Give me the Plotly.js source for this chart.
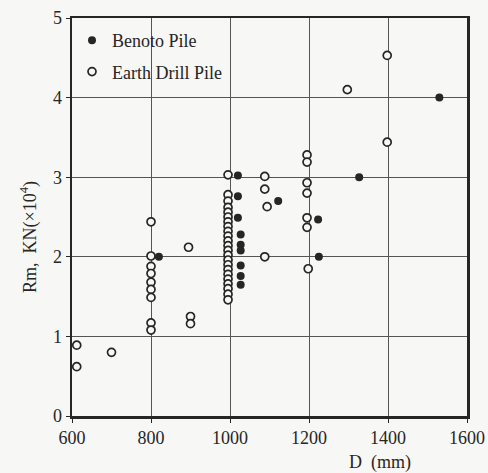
<!DOCTYPE html>
<html>
<head>
<meta charset="utf-8">
<script src="https://cdn.plot.ly/plotly-3.0.1.min.js"></script>
<style>html,body{margin:0;padding:0;background:#f7f7f5;}</style>
</head>
<body>
<div id="chart" style="width:488px;height:473px;"></div>
<script>
// Benoto Pile (filled)
const benotoD = [820, 1020, 1020, 1020, 1027, 1027, 1027, 1027, 1027, 1027, 1122, 1223, 1225, 1327, 1530];
const benotoRm = [2.00, 3.02, 2.76, 2.49, 2.28, 2.15, 2.08, 1.89, 1.76, 1.65, 2.70, 2.47, 2.00, 3.00, 4.00];

// Earth Drill Pile (open)
const earthD = [612, 612, 700,
  800, 800, 800, 800, 800, 800, 800, 800, 800,
  895, 900, 900,
  995, 995, 995, 995, 995, 995, 995, 995, 995, 995, 995, 995, 995, 995, 995, 995, 995, 995, 995, 995, 995, 995, 995,
  1088, 1088, 1094, 1088,
  1195, 1195, 1195, 1195, 1195, 1195, 1198,
  1297, 1398, 1398];
const earthRm = [0.89, 0.62, 0.80,
  2.44, 2.01, 1.88, 1.79, 1.68, 1.59, 1.49, 1.17, 1.08,
  2.12, 1.25, 1.16,
  3.03, 2.78, 2.70, 2.62, 2.56, 2.50, 2.44, 2.38, 2.32, 2.26, 2.20, 2.14, 2.08, 2.02, 1.96, 1.90, 1.84, 1.78, 1.72, 1.66, 1.60, 1.53, 1.46,
  3.01, 2.85, 2.63, 2.00,
  3.28, 3.19, 2.93, 2.80, 2.49, 2.37, 1.85,
  4.10, 4.53, 3.44];

const xTicks = [600, 800, 1000, 1200, 1400, 1600];
const yTicks = [0, 1, 2, 3, 4, 5];
const seriesNames = ["Benoto Pile", "Earth Drill Pile"];

const ink = "#262626";
const bg = "#f7f7f5";
const font = {family: "Liberation Serif, Times New Roman, serif", size: 18, color: ink};

const traces = [
  {x: benotoD, y: benotoRm, name: seriesNames[0], type: "scatter", mode: "markers",
   legendgroup: "a", cliponaxis: false,
   marker: {symbol: "circle", size: 8, color: ink, line: {width: 0}}},
  {x: earthD, y: earthRm, name: seriesNames[1], type: "scatter", mode: "markers",
   legendgroup: "b", cliponaxis: false,
   marker: {symbol: "circle", size: 8, color: bg, line: {width: 1.7, color: ink}}}
];

const layout = {
  width: 488, height: 473,
  margin: {l: 72, r: 21, t: 18, b: 57},
  paper_bgcolor: bg, plot_bgcolor: bg,
  font: font,
  showlegend: true,
  legend: {x: 0.0, y: 0.99, xanchor: "left", yanchor: "top", bgcolor: "rgba(0,0,0,0)",
    font: font, traceorder: "grouped", tracegroupgap: 5, itemwidth: 30},
  xaxis: {range: [600, 1600], tickvals: xTicks, ticktext: xTicks.map(String),
    showgrid: true, gridcolor: "#555", gridwidth: 1, zeroline: false,
    showline: true, linecolor: ink, linewidth: 2.5, mirror: true,
    ticks: "outside", ticklen: 4, tickcolor: ink, tickfont: font},
  yaxis: {range: [0, 5], tickvals: yTicks, ticktext: yTicks.map(String),
    showgrid: true, gridcolor: "#555", gridwidth: 1, zeroline: false,
    showline: true, linecolor: ink, linewidth: 2.5, mirror: true,
    ticks: "outside", ticklen: 4, tickcolor: ink, tickfont: font},
  shapes: [
    {type: "rect", xref: "paper", yref: "paper", x0: 0.006, x1: 0.43, y0: 0.806, y1: 0.994,
     fillcolor: bg, opacity: 1, line: {width: 0, color: bg}, layer: "between"}
  ],
  annotations: [
    {text: "D  (mm)", xref: "paper", yref: "paper", x: 0.78, y: 0, yshift: -46,
     showarrow: false, xanchor: "center", yanchor: "middle", font: font},
    {text: "Rm,  KN(×10<sup>4</sup>)", xref: "paper", yref: "paper", x: 0, xshift: -43, y: 0.45,
     textangle: -90, showarrow: false, xanchor: "center", yanchor: "middle", font: font}
  ]
};

Plotly.newPlot("chart", traces, layout, {displayModeBar: false, staticPlot: true});
</script>
</body>
</html>
